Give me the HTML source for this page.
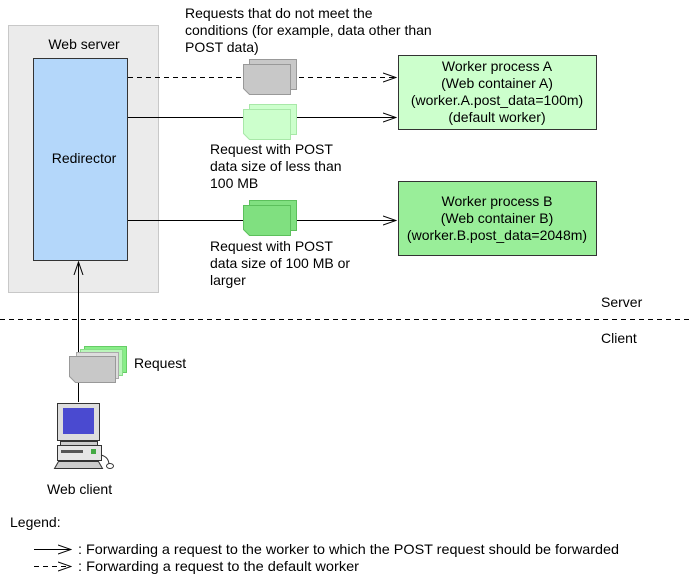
<!DOCTYPE html>
<html><head><meta charset="utf-8"><style>
html,body{margin:0;padding:0;background:#fff}
svg{display:block}
text{font-family:"Liberation Sans",sans-serif;font-size:14px;fill:#000}
</style></head><body>
<svg width="691" height="583" viewBox="0 0 691 583" xmlns="http://www.w3.org/2000/svg">
<defs>
<marker id="ah" markerWidth="14" markerHeight="10" refX="13" refY="5" orient="auto" markerUnits="userSpaceOnUse">
<path d="M0,0.5 L13,5 L0,9.5" fill="none" stroke="#000" stroke-width="1"/>
</marker>
</defs>
<rect x="8.5" y="25.5" width="150" height="267" fill="#ebebeb" stroke="#c8c8c8"/>
<text x="84" y="49" text-anchor="middle">Web server</text>
<rect x="33.5" y="58.5" width="94" height="202" fill="#b4d7fa" stroke="#333"/>
<text x="84" y="163" text-anchor="middle">Redirector</text>
<line x1="128" y1="77.5" x2="396" y2="77.5" stroke="#000" stroke-dasharray="5,4" marker-end="url(#ah)"/>
<line x1="128" y1="117.5" x2="396" y2="117.5" stroke="#000" marker-end="url(#ah)"/>
<line x1="128" y1="220.5" x2="396" y2="220.5" stroke="#000" marker-end="url(#ah)"/>
<line x1="78.5" y1="402" x2="78.5" y2="262" stroke="#000" marker-end="url(#ah)"/>
<g stroke="#999" fill="#c8c8c8">
<rect x="249.5" y="59.5" width="47" height="30"/>
<path d="M243.5,64.5 h47 v30 h-41 l-6,-6 z"/>
</g>
<g stroke="#a8e8a8" fill="#ccffcc">
<rect x="249.5" y="104.5" width="47" height="30"/>
<path d="M243.5,109.5 h47 v30 h-41 l-6,-6 z"/>
</g>
<g stroke="#5cc05c" fill="#80e080">
<rect x="249.5" y="200.5" width="47" height="30"/>
<path d="M243.5,205.5 h47 v30 h-41 l-6,-6 z"/>
</g>
<rect x="398.5" y="55.5" width="198" height="74" fill="#ccffcc" stroke="#333"/>
<text x="497" y="71" text-anchor="middle">Worker process A</text>
<text x="497" y="88" text-anchor="middle">(Web container A)</text>
<text x="497" y="105" text-anchor="middle">(worker.A.post_data=100m)</text>
<text x="497" y="122" text-anchor="middle">(default worker)</text>
<rect x="398.5" y="181.5" width="198" height="74" fill="#99ee99" stroke="#333"/>
<text x="497" y="206" text-anchor="middle">Worker process B</text>
<text x="497" y="223" text-anchor="middle">(Web container B)</text>
<text x="497" y="240" text-anchor="middle">(worker.B.post_data=2048m)</text>
<text x="185" y="18">Requests that do not meet the</text>
<text x="185" y="35">conditions (for example, data other than</text>
<text x="185" y="52">POST data)</text>
<text x="210" y="154">Request with POST</text>
<text x="210" y="171">data size of less than</text>
<text x="210" y="188">100 MB</text>
<text x="210" y="251">Request with POST</text>
<text x="210" y="268">data size of 100 MB or</text>
<text x="210" y="285">larger</text>
<line x1="0" y1="319.5" x2="691" y2="319.5" stroke="#000" stroke-dasharray="5,4"/>
<text x="601" y="307">Server</text>
<text x="601" y="343">Client</text>
<g>
<rect x="84.5" y="346.5" width="42" height="26" fill="#88ee88" stroke="#66cc66"/>
<rect x="80.5" y="349.5" width="42" height="26" fill="#bbf5bb" stroke="#88dd88"/>
<rect x="76.5" y="352.5" width="42" height="26" fill="#ddd" stroke="#aaa"/>
<path d="M69.5,356.5 h46 v26 h-40 l-6,-6 z" fill="#c8c8c8" stroke="#999"/>
</g>
<text x="134" y="368">Request</text>
<g>
<rect x="57.5" y="403.5" width="42" height="37" fill="#ddd" stroke="#333"/>
<rect x="63" y="408" width="31" height="26" fill="#4a4ad0"/>
<rect x="60.5" y="441.5" width="37" height="4" fill="#ccc" stroke="#333"/>
<rect x="57.5" y="445.5" width="44" height="15" fill="#e6e6e6" stroke="#333"/>
<rect x="61" y="450" width="22" height="3" fill="#555"/>
<rect x="91" y="449" width="5" height="5" fill="#4a4"/>
<path d="M54.5,468.5 l4,-7 h40 l4,7 z" fill="#ccc" stroke="#333"/>
<path d="M101,455 q8,2 8,10" fill="none" stroke="#333"/>
<ellipse cx="110" cy="466" rx="3.5" ry="2.5" fill="#fff" stroke="#333"/>
</g>
<text x="47" y="494">Web client</text>
<text x="10" y="527">Legend:</text>
<line x1="34" y1="549.5" x2="71" y2="549.5" stroke="#000" marker-end="url(#ah)"/>
<text x="78" y="554" textLength="541" lengthAdjust="spacingAndGlyphs">: Forwarding a request to the worker to which the POST request should be forwarded</text>
<line x1="34" y1="566.5" x2="71" y2="566.5" stroke="#000" stroke-dasharray="5,4" marker-end="url(#ah)"/>
<text x="78" y="571" textLength="281" lengthAdjust="spacingAndGlyphs">: Forwarding a request to the default worker</text>
</svg>
</body></html>
